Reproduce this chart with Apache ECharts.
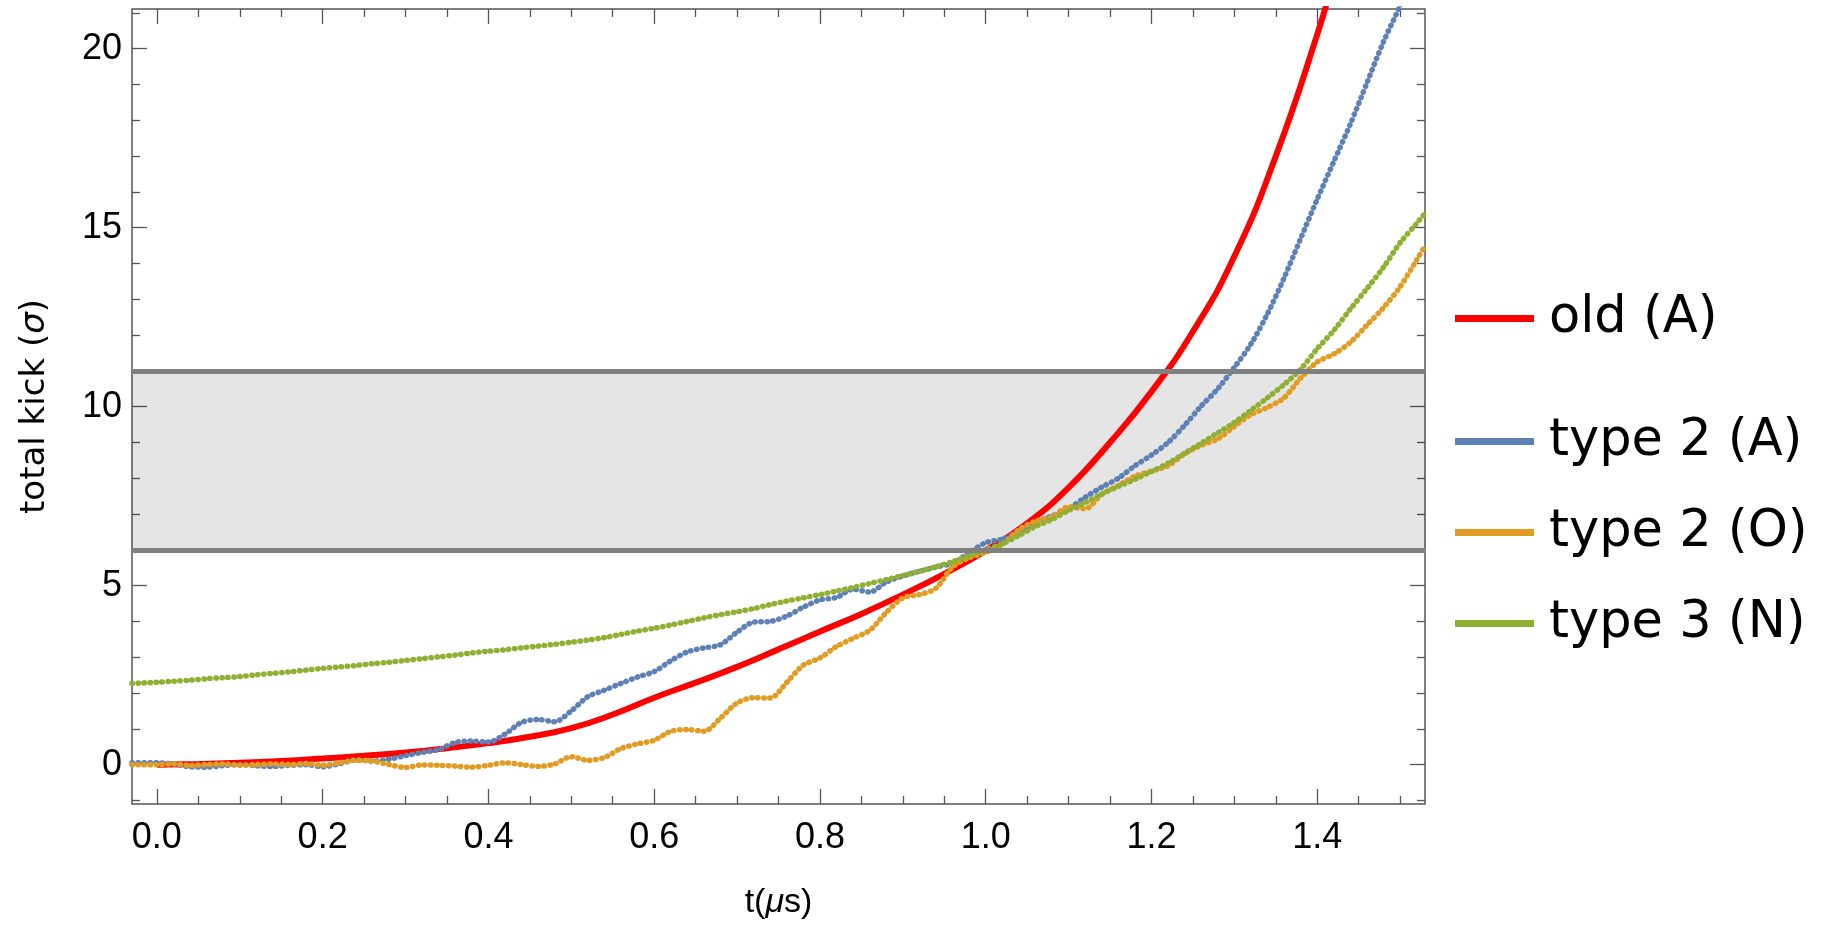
<!DOCTYPE html>
<html>
<head>
<meta charset="utf-8">
<script src="https://cdn.jsdelivr.net/npm/echarts@6/dist/echarts.min.js"></script>
<style>
  html, body { margin: 0; padding: 0; background: #fff; }
  #chart { width: 1833px; height: 925px; }
</style>
</head>
<body>
<div id="chart"></div>
<script>
// time axis (μs) shared by the three simulated curves
const T = [-0.03, 0.00, 0.02, 0.04, 0.06, 0.08, 0.10, 0.12, 0.14, 0.16,
  0.18, 0.20, 0.22, 0.24, 0.26, 0.28, 0.30, 0.32, 0.34, 0.36,
  0.38, 0.40, 0.42, 0.44, 0.46, 0.48, 0.50, 0.52, 0.54, 0.56,
  0.58, 0.60, 0.62, 0.64, 0.66, 0.68, 0.70, 0.72, 0.74, 0.76,
  0.78, 0.80, 0.82, 0.84, 0.86, 0.88, 0.90, 0.92, 0.94, 0.96,
  0.98, 1.00, 1.02, 1.04, 1.06, 1.08, 1.10, 1.12, 1.14, 1.16,
  1.18, 1.20, 1.22, 1.24, 1.26, 1.28, 1.30, 1.32, 1.34, 1.36,
  1.38, 1.40, 1.42, 1.44, 1.46, 1.48, 1.50, 1.52, 1.53];

const type2A = [0.05, 0.05, 0.02, -0.06, -0.07, -0.03, 0.00, -0.03, -0.05, -0.02,
  0.00, -0.06, 0.02, 0.13, 0.10, 0.15, 0.25, 0.34, 0.42, 0.62,
  0.66, 0.63, 0.85, 1.18, 1.26, 1.20, 1.50, 1.90, 2.08, 2.27,
  2.45, 2.60, 2.90, 3.15, 3.26, 3.35, 3.70, 3.98, 4.00, 4.15,
  4.40, 4.60, 4.67, 4.90, 4.82, 5.10, 5.27, 5.40, 5.52, 5.63,
  5.92, 6.20, 6.30, 6.50, 6.76, 6.95, 7.15, 7.47, 7.75, 8.00,
  8.35, 8.65, 9.00, 9.48, 10.02, 10.50, 11.10, 11.75, 12.60, 13.60,
  14.70, 15.80, 16.85, 17.90, 19.05, 20.20, 21.20, 22.30, 22.80];

const type2O = [0.00, 0.00, 0.02, -0.02, 0.00, 0.02, -0.02, 0.00, 0.02, 0.00,
  0.03, -0.02, 0.05, 0.12, 0.10, 0.00, -0.08, -0.01, -0.02, -0.04,
  -0.07, -0.02, 0.05, 0.00, -0.05, 0.02, 0.22, 0.12, 0.20, 0.45,
  0.58, 0.68, 0.93, 0.98, 0.93, 1.30, 1.72, 1.87, 1.86, 2.30,
  2.78, 2.98, 3.30, 3.53, 3.75, 4.25, 4.66, 4.75, 4.93, 5.52,
  5.78, 5.93, 6.15, 6.56, 6.80, 6.92, 7.20, 7.15, 7.55, 7.80,
  8.06, 8.20, 8.35, 8.68, 8.92, 9.10, 9.45, 9.78, 9.98, 10.25,
  10.80, 11.25, 11.47, 11.80, 12.28, 12.77, 13.35, 14.10, 14.50];

const type3N = [2.27, 2.30, 2.33, 2.36, 2.40, 2.43, 2.46, 2.51, 2.55, 2.59,
  2.64, 2.69, 2.73, 2.77, 2.82, 2.86, 2.91, 2.96, 3.01, 3.06,
  3.12, 3.17, 3.21, 3.26, 3.31, 3.36, 3.42, 3.48, 3.55, 3.64,
  3.73, 3.81, 3.90, 4.00, 4.10, 4.19, 4.27, 4.36, 4.47, 4.57,
  4.66, 4.75, 4.85, 4.95, 5.06, 5.17, 5.28, 5.40, 5.53, 5.67,
  5.83, 6.00, 6.17, 6.40, 6.65, 6.85, 7.10, 7.32, 7.56, 7.77,
  7.97, 8.19, 8.42, 8.70, 8.98, 9.27, 9.56, 9.90, 10.25, 10.62,
  11.05, 11.62, 12.13, 12.73, 13.30, 13.90, 14.58, 15.12, 15.40];

// analytic "old" curve, read at coarser steps
const TR = [0.00, 0.05, 0.10, 0.15, 0.20, 0.25, 0.30, 0.35, 0.40, 0.45,
  0.50, 0.55, 0.60, 0.65, 0.70, 0.75, 0.80, 0.85, 0.90, 0.95,
  1.00, 1.05, 1.10, 1.15, 1.20, 1.25, 1.30, 1.35, 1.40, 1.42];
const oldA = [0.00, 0.02, 0.05, 0.10, 0.17, 0.25, 0.34, 0.46, 0.60, 0.78,
  1.02, 1.40, 1.87, 2.29, 2.73, 3.22, 3.72, 4.21, 4.75, 5.33,
  5.98, 6.74, 7.74, 9.00, 10.42, 12.10, 14.20, 17.00, 20.40, 22.00];

// shaded target window
const BAND = [6, 11];

const xMajor = [0, 0.2, 0.4, 0.6, 0.8, 1.0, 1.2, 1.4];
const xMinor = [0.05, 0.1, 0.15, 0.25, 0.3, 0.35, 0.45, 0.5, 0.55, 0.65, 0.7, 0.75,
  0.85, 0.9, 0.95, 1.05, 1.1, 1.15, 1.25, 1.3, 1.35, 1.45, 1.5];
const yMajor = [0, 5, 10, 15, 20];
const yMinor = [-1, 1, 2, 3, 4, 6, 7, 8, 9, 11, 12, 13, 14, 16, 17, 18, 19, 21];

const FONT = '"Liberation Sans", Arial, sans-serif';
const WIDE = '"DejaVu Sans", sans-serif';
const X_RANGE = [-0.03, 1.53];
const Y_RANGE = [-1.1, 21.11];
const tickColor = '#555';

function pairs(xs, ys) {
  return xs.map((x, i) => [x, ys[i]]);
}

function xAxisDef(pos, ticks, len, labels) {
  return {
    type: 'value', position: pos, min: X_RANGE[0], max: X_RANGE[1],
    axisLine: { show: false, onZero: false },
    splitLine: { show: false },
    axisTick: { show: true, inside: true, length: len, customValues: ticks,
      lineStyle: { color: tickColor, width: 1.3 } },
    axisLabel: labels ? {
      show: true, customValues: ticks, margin: 16, color: '#000',
      fontSize: 36, fontFamily: FONT, formatter: v => v.toFixed(1)
    } : { show: false }
  };
}

function yAxisDef(pos, ticks, len, labels) {
  return {
    type: 'value', position: pos, min: Y_RANGE[0], max: Y_RANGE[1],
    axisLine: { show: false, onZero: false },
    splitLine: { show: false },
    axisTick: { show: true, inside: true, length: len, customValues: ticks,
      lineStyle: { color: tickColor, width: 1.3 } },
    axisLabel: labels ? {
      show: true, customValues: ticks, margin: 10, color: '#000',
      fontSize: 36, fontFamily: FONT, formatter: v => String(v)
    } : { show: false }
  };
}

const xAxes = [
  xAxisDef('bottom', xMajor, 15, true),
  xAxisDef('bottom', xMinor, 8, false),
  xAxisDef('top', xMajor, 15, false),
  xAxisDef('top', xMinor, 8, false)
];
Object.assign(xAxes[0], {
  name: 't({i|μ}s)', nameLocation: 'middle', nameGap: 82,
  nameTextStyle: { fontSize: 34, fontFamily: FONT, color: '#000',
    rich: { i: { fontSize: 34, fontFamily: FONT, fontStyle: 'italic', color: '#000' } } }
});

const yAxes = [
  yAxisDef('left', yMajor, 15, true),
  yAxisDef('left', yMinor, 8, false),
  yAxisDef('right', yMajor, 15, false),
  yAxisDef('right', yMinor, 8, false)
];
Object.assign(yAxes[0], {
  name: 'total kick ({i|σ})', nameLocation: 'middle', nameGap: 80,
  nameTextStyle: { fontSize: 34, fontFamily: WIDE, color: '#000',
    rich: { i: { fontSize: 34, fontFamily: WIDE, fontStyle: 'italic', color: '#000' } } }
});

const dotted = (color) => ({
  color: color, width: 5.5, type: [0.5, 5.5], cap: 'round', join: 'round'
});

const legendText = {
  fontSize: 51, lineHeight: 50, color: '#000', fontFamily: WIDE, padding: [0, 0, 0, 10]
};

const chart = echarts.init(document.getElementById('chart'), null, { renderer: 'canvas' });

chart.setOption({
  animation: false,
  backgroundColor: '#fff',
  grid: {
    left: 132, top: 9, right: 408, bottom: 117,
    show: true, borderColor: '#555', borderWidth: 1.5, backgroundColor: 'transparent'
  },
  xAxis: xAxes,
  yAxis: yAxes,
  legend: [
    {
      data: ['old (A)'], left: 1455, top: 293, padding: 0, orient: 'vertical',
      icon: 'rect', itemWidth: 79, itemHeight: 7, selectedMode: false,
      textStyle: legendText
    },
    {
      data: ['type 2 (A)', 'type 2 (O)', 'type 3 (N)'], left: 1455, top: 416, padding: 0,
      orient: 'vertical', itemGap: 40,
      icon: 'rect', itemWidth: 79, itemHeight: 7, selectedMode: false,
      textStyle: legendText
    }
  ],
  series: [
    {
      name: 'old (A)', type: 'line', data: pairs(TR, oldA), smooth: true,
      showSymbol: false, color: '#FF0000',
      lineStyle: { color: '#FF0000', width: 6 }
    },
    {
      name: 'type 2 (A)', type: 'line', data: pairs(T, type2A), smooth: 0.3,
      showSymbol: false, color: '#5E81B5', lineStyle: dotted('#5E81B5')
    },
    {
      name: 'type 2 (O)', type: 'line', data: pairs(T, type2O), smooth: 0.3,
      showSymbol: false, color: '#E19C24', lineStyle: dotted('#E19C24')
    },
    {
      name: 'type 3 (N)', type: 'line', data: pairs(T, type3N), smooth: 0.3,
      showSymbol: false, color: '#8FB032', lineStyle: dotted('#8FB032')
    },
    {
      type: 'line', data: [], z: 5, silent: true,
      markArea: {
        silent: true,
        itemStyle: { color: 'rgba(0,0,0,0.1)' },
        data: [[{ yAxis: BAND[0] }, { yAxis: BAND[1] }]]
      },
      markLine: {
        silent: true, symbol: ['none', 'none'], label: { show: false },
        lineStyle: { color: '#808080', width: 5, type: 'solid' },
        data: [{ yAxis: BAND[0] }, { yAxis: BAND[1] }]
      }
    }
  ]
});
</script>
</body>
</html>
